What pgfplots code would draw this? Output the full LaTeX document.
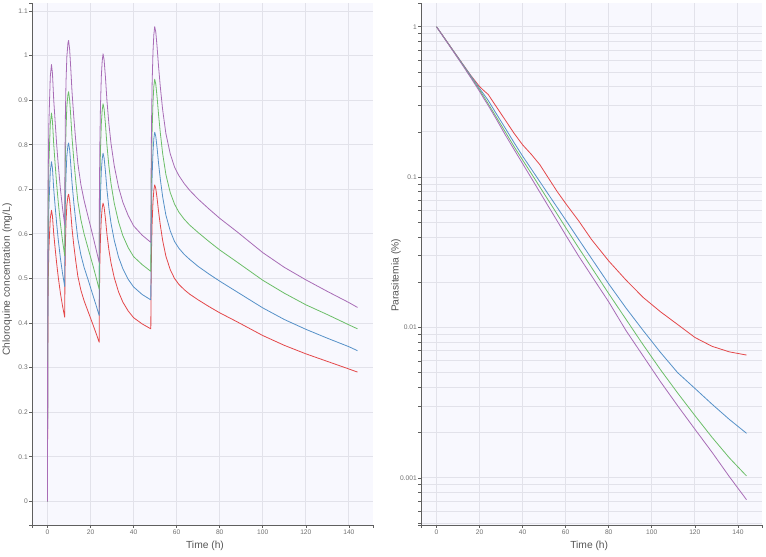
\documentclass[border=0pt]{standalone}
\usepackage{fontspec}
\setmainfont{Liberation Sans}
\usepackage{pgfplots}
\usepackage{pgfplotstable}
\pgfplotsset{compat=1.18}
\definecolor{bgc}{RGB}{248,248,254}
\definecolor{gridc}{RGB}{226,226,234}
\definecolor{axc}{RGB}{95,95,95}
\definecolor{tlc}{RGB}{110,110,110}
\definecolor{labc}{RGB}{85,85,85}
\definecolor{cred}{RGB}{228,72,74}
\definecolor{cblue}{RGB}{86,145,200}
\definecolor{cgreen}{RGB}{108,190,104}
\definecolor{cpurple}{RGB}{168,108,182}

\pgfplotstableread{
t red blue green purple
0 0 0 0 0
0.1 0.300 0.350 0.400 0.450
0.3 0.480 0.560 0.640 0.720
0.6 0.560 0.653 0.747 0.840
0.95 0.600 0.700 0.800 0.900
1.3 0.635 0.741 0.847 0.953
1.85 0.653 0.762 0.871 0.980
2.3 0.640 0.747 0.853 0.960
2.9 0.600 0.700 0.800 0.900
3.6 0.565 0.659 0.753 0.848
4.3 0.532 0.621 0.709 0.798
5.0 0.503 0.587 0.671 0.755
6.0 0.467 0.545 0.623 0.701
7.0 0.438 0.511 0.584 0.657
8.0 0.413 0.482 0.551 0.620
8.1 0.500 0.583 0.667 0.750
8.3 0.575 0.671 0.767 0.863
8.6 0.627 0.732 0.836 0.941
9.0 0.665 0.776 0.887 0.998
9.5 0.685 0.799 0.913 1.028
9.8 0.689 0.804 0.919 1.034
10.3 0.675 0.788 0.900 1.013
10.8 0.648 0.756 0.864 0.972
11.4 0.612 0.714 0.816 0.918
12.2 0.575 0.671 0.767 0.863
13.1 0.540 0.630 0.720 0.810
14.1 0.505 0.589 0.673 0.758
15.5 0.474 0.553 0.632 0.711
17.0 0.450 0.525 0.600 0.675
19.0 0.424 0.495 0.565 0.636
21.0 0.398 0.464 0.531 0.597
22.5 0.378 0.441 0.504 0.567
24.0 0.357 0.417 0.476 0.536
24.1 0.450 0.525 0.600 0.675
24.3 0.530 0.618 0.707 0.795
24.6 0.590 0.688 0.787 0.885
25.0 0.635 0.741 0.847 0.953
25.4 0.658 0.768 0.877 0.987
25.8 0.669 0.781 0.892 1.004
26.3 0.660 0.770 0.880 0.990
26.9 0.635 0.741 0.847 0.953
27.6 0.600 0.700 0.800 0.900
28.5 0.565 0.659 0.753 0.848
29.5 0.535 0.624 0.713 0.803
31.0 0.502 0.586 0.669 0.753
33.0 0.470 0.548 0.627 0.705
35.0 0.447 0.522 0.596 0.671
37.5 0.427 0.498 0.569 0.641
40.0 0.412 0.481 0.549 0.618
44.0 0.398 0.464 0.531 0.597
48.0 0.387 0.452 0.516 0.581
48.1 0.480 0.560 0.640 0.720
48.3 0.560 0.653 0.747 0.840
48.6 0.625 0.729 0.833 0.938
49.0 0.672 0.784 0.896 1.008
49.4 0.698 0.814 0.931 1.047
49.8 0.710 0.828 0.947 1.065
50.3 0.702 0.819 0.936 1.053
50.9 0.680 0.793 0.907 1.020
51.6 0.650 0.758 0.867 0.975
52.4 0.620 0.723 0.827 0.930
53.5 0.585 0.683 0.780 0.878
55.0 0.550 0.642 0.733 0.825
57.0 0.520 0.607 0.693 0.780
59.0 0.500 0.583 0.667 0.750
61.0 0.487 0.568 0.649 0.731
63.5 0.475 0.554 0.633 0.713
66.0 0.465 0.543 0.620 0.698
70.0 0.452 0.527 0.603 0.678
75.0 0.437 0.510 0.583 0.656
80.0 0.423 0.494 0.564 0.635
88.0 0.403 0.470 0.537 0.605
100.0 0.372 0.434 0.496 0.558
110.0 0.350 0.408 0.467 0.525
120.0 0.331 0.386 0.441 0.497
130.0 0.314 0.366 0.419 0.471
140.0 0.297 0.347 0.396 0.446
144.0 0.290 0.338 0.387 0.435
}\conc

\pgfplotstableread{
t red blue green purple
0 1 1 1 1
4 0.830 0.828 0.826 0.824
8 0.687 0.686 0.682 0.679
12 0.570 0.568 0.562 0.558
16 0.473 0.470 0.462 0.457
20 0.400 0.389 0.380 0.372
22 0.376 0.355 0.343 0.333
24 0.355 0.324 0.308 0.300
28 0.291 0.261 0.248 0.240
32 0.239 0.211 0.1995 0.1905
36 0.196 0.170 0.160 0.153
40 0.164 0.138 0.130 0.123
44 0.142 0.1135 0.106 0.0989
48 0.121 0.0933 0.0861 0.0794
52 0.0986 0.0767 0.0700 0.0638
56 0.0804 0.0631 0.0569 0.0513
60 0.0668 0.0519 0.0462 0.0412
66 0.0513 0.0386 0.0339 0.0299
72 0.0385 0.0288 0.0251 0.0221
80 0.0277 0.0195 0.0168 0.0148
88 0.0207 0.01349 0.01135 0.00955
96 0.01585 0.00955 0.00767 0.00646
104 0.01274 0.00684 0.00525 0.00437
112 0.01047 0.00501 0.00367 0.00302
120 0.00859 0.00394 0.00260 0.00211
128 0.00750 0.00309 0.00186 0.00148
136 0.00689 0.00245 0.00136 0.00102
144 0.00656 0.00198 0.00103 0.000716
}\para

\pgfplotsset{
  base/.style={
    scale only axis, width=255.75pt, height=391.5pt, anchor=south west,
    xmin=-7.2, xmax=151.2, xtick={0,20,...,140},
    axis background/.style={fill=bgc},
    xmajorgrids=true, ymajorgrids=true,
    major grid style={draw=gridc, line width=0.7pt},
    minor grid style={draw=gridc, line width=0.7pt},
    axis lines=left, axis line style={-, draw=axc, line width=0.6pt},
    tick align=outside, major tick length=2pt, minor tick length=2pt,
    major tick style={draw=axc, line width=0.5pt},
    minor tick style={draw=axc, line width=0.5pt},
    tick label style={font=\fontsize{5}{6}\selectfont, text=tlc},
    xticklabel style={inner sep=1pt, yshift=-0.5pt},
    yticklabel style={inner sep=1pt},
    /pgf/number format/assume math mode=true,
    clip=false,
    every axis plot/.append style={line width=0.6pt, line join=round},
  }
}

\newcommand{\spines}{%
  \draw[axc, line width=0.6pt] ([xshift=-2pt]rel axis cs:0,1) -- (rel axis cs:0,1) -- (rel axis cs:0,0) -- ([xshift=-2pt]rel axis cs:0,0);
  \draw[axc, line width=0.6pt] ([yshift=-2pt]rel axis cs:0,0) -- (rel axis cs:0,0) -- (rel axis cs:1,0) -- ([yshift=-2pt]rel axis cs:1,0);
}

\begin{document}
\begin{tikzpicture}
\path[use as bounding box] (0,0) rectangle (574.5pt,417pt);

\begin{axis}[base, at={(24pt,23.25pt)},
  ymin=-0.053, ymax=1.118, ytick={0,0.1,0.2,0.3,0.4,0.5,0.6,0.7,0.8,0.9,1,1.1},
  yticklabels={0,0.1,0.2,0.3,0.4,0.5,0.6,0.7,0.8,0.9,1,1.1}]
\addplot[cred] table[x=t,y=red] {\conc};
\addplot[cblue] table[x=t,y=blue] {\conc};
\addplot[cgreen] table[x=t,y=green] {\conc};
\addplot[cpurple] table[x=t,y=purple] {\conc};
\spines
\end{axis}

\begin{axis}[base, at={(315.75pt,23.25pt)},
  ymode=log, ymin=0.000486, ymax=1.439,
  ytick={0.001,0.01,0.1,1}, yticklabels={0.001,0.01,0.1,1},
  minor ytick={0.0005,0.0006,0.0007,0.0008,0.0009,0.002,0.003,0.004,0.005,0.006,0.007,0.008,0.009,0.02,0.03,0.04,0.05,0.06,0.07,0.08,0.09,0.2,0.3,0.4,0.5,0.6,0.7,0.8,0.9},
  yminorgrids=true]
\addplot[cred] table[x=t,y=red] {\para};
\addplot[cblue] table[x=t,y=blue] {\para};
\addplot[cgreen] table[x=t,y=green] {\para};
\addplot[cpurple] table[x=t,y=purple] {\para};
\spines
\end{axis}

\node[font=\fontsize{7.7}{9}\selectfont, text=labc] at (153.75pt,7.5pt) {Time (h)};
\node[font=\fontsize{7.7}{9}\selectfont, text=labc] at (441.9pt,7.5pt) {Time (h)};
\node[font=\fontsize{7.7}{9}\selectfont, text=labc, rotate=90] at (5.5pt,207.4pt) {Chloroquine concentration (mg/L)};
\node[font=\fontsize{7.7}{9}\selectfont, text=labc, rotate=90] at (297pt,210.4pt) {Parasitemia (\%)};
\end{tikzpicture}
\end{document}
